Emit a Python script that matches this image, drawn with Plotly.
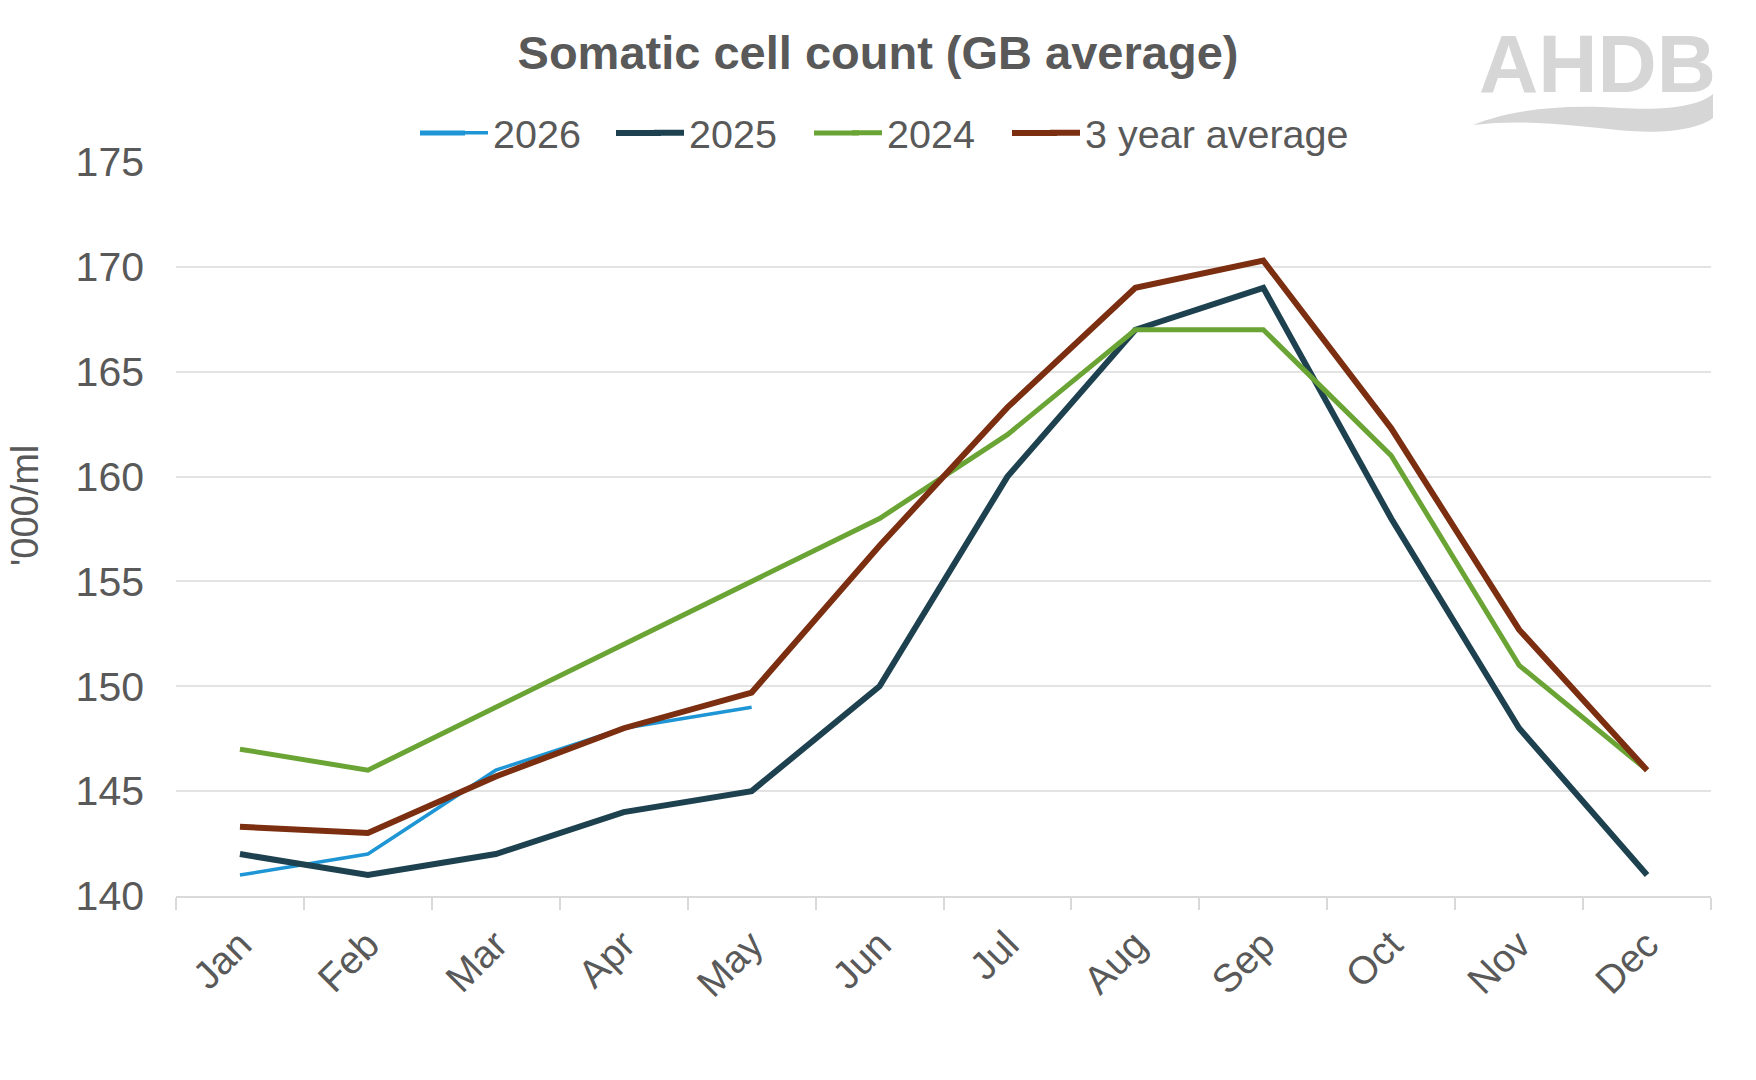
import plotly.graph_objects as go

months = ["Jan", "Feb", "Mar", "Apr", "May", "Jun", "Jul", "Aug", "Sep", "Oct", "Nov", "Dec"]
y2026 = [141, 142, 146, 148, 149]
y2025 = [142, 141, 142, 144, 145, 150, 160, 167, 169, 158, 148, 141]
y2024 = [147, 146, 149, 152, 155, 158, 162, 167, 167, 161, 151, 146]
yavg = [143.3, 143, 145.7, 148, 149.7, 156.7, 163.3, 169, 170.3, 162.3, 152.7, 146]
yticks = [140, 145, 150, 155, 160, 165, 170, 175]

W, H = 1756, 1080
L, R, T, B = 176, 45, 162, 184
PW, PH = W - L - R, H - T - B

def px(x):
    return (x - L) / PW

def py(y):
    return (H - B - y) / PH

FONT = "Liberation Sans, Arial, sans-serif"
TXT = "#595959"

series = [
    ("2026", months[:len(y2026)], y2026, "#1E95D4", 3.5, "legend", 453),
    ("2025", months, y2025, "#1E4150", 6, "legend2", 649),
    ("2024", months, y2024, "#6AA434", 5, "legend3", 847),
    ("3 year average", months, yavg, "#7B2E10", 6, "legend4", 1045),
]

fig = go.Figure()
for name, xs, ys, col, w, lg, _ in series:
    fig.add_trace(go.Scatter(x=xs, y=ys, name=name, mode="lines",
                             line=dict(color=col, width=w), legend=lg))

def leg(xpix):
    return dict(orientation="h", x=px(xpix), xanchor="left", y=py(133), yanchor="middle",
                font=dict(size=39.5, color=TXT, family=FONT),
                bgcolor="rgba(0,0,0,0)", itemwidth=30)

fig.update_layout(
    width=W, height=H,
    margin=dict(l=L, r=R, t=T, b=B),
    paper_bgcolor="white", plot_bgcolor="white",
    font=dict(family=FONT, color=TXT, size=39),
    title=dict(text="<b>Somatic cell count (GB average)</b>", x=0.5, xref="container",
               xanchor="center", y=1 - 53 / H, yanchor="middle",
               font=dict(size=47, color=TXT, family=FONT)),
    showlegend=True,
    legend=leg(453), legend2=leg(649), legend3=leg(847), legend4=leg(1045),
    xaxis=dict(categoryorder="array", categoryarray=months, range=[-0.5, 11.5],
               showgrid=False, showline=True, linecolor="#D9D9D9", linewidth=2,
               ticks="outside", tickson="boundaries", ticklen=12, tickcolor="#D9D9D9",
               tickwidth=2, tickangle=-45, tickfont=dict(size=39, color=TXT),
               ticklabelstandoff=8, zeroline=False),
    yaxis=dict(range=[140, 175], tickvals=yticks, showgrid=True, gridcolor="#E3E3E3",
               gridwidth=2, showline=False, zeroline=False, ticks="",
               tickfont=dict(size=41, color=TXT), ticklabelstandoff=31),
)

# lengthen the legend line swatches to match the reference
for name, xs, ys, col, w, lg, lx in series:
    fig.add_shape(type="line", xref="paper", yref="paper",
                  x0=px(lx - 33), x1=px(lx + 12), y0=py(133), y1=py(133),
                  line=dict(color=col, width=max(w, 5)))

fig.add_annotation(text="'000/ml", xref="paper", yref="paper", x=px(25), y=py(506),
                   xanchor="center", yanchor="middle", textangle=-90, showarrow=False,
                   font=dict(size=38, color=TXT, family=FONT))

# Logo
fig.add_annotation(text="<b>AHDB</b>", xref="paper", yref="paper", x=px(1597), y=py(64),
                   xanchor="center", yanchor="middle", showarrow=False,
                   font=dict(size=82, color="#D6D6D6", family=FONT))

def pt(x, y):
    return f"{px(x):.5f},{py(y):.5f}"

path = ("M " + pt(1473, 125) +
        " C " + pt(1510, 110) + " " + pt(1560, 104) + " " + pt(1620, 108) +
        " C " + pt(1670, 111) + " " + pt(1700, 105) + " " + pt(1713, 94) +
        " L " + pt(1713, 118) +
        " C " + pt(1700, 128) + " " + pt(1670, 134) + " " + pt(1630, 131) +
        " C " + pt(1580, 127) + " " + pt(1530, 118) + " " + pt(1473, 125) + " Z")
fig.add_shape(type="path", xref="paper", yref="paper", path=path,
              fillcolor="#D6D6D6", line=dict(width=0))

fig.write_html("out.html")
